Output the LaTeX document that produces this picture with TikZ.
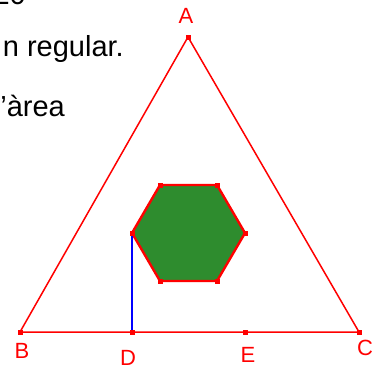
\documentclass[tikz,border=0pt]{standalone}
\usepackage{fontspec}
\setmainfont{Liberation Sans}
\definecolor{hexgreen}{RGB}{46,140,46}
\begin{document}
\begin{tikzpicture}[x=1pt,y=-1pt,
  txt/.style={inner sep=0pt,font=\fontsize{29}{34}\selectfont},
  lbl/.style={inner sep=0pt,text=red,font=\fontsize{22}{24}\selectfont},
  pt/.style={fill=red,minimum size=5pt,inner sep=0pt,shape=rectangle},
  side/.style={draw=red,line width=1.5pt},
  hexedge/.style={draw=red,line width=2.4pt,fill=hexgreen,line join=round}]
\useasboundingbox (0,0) rectangle (385,365);
% text (clipped at the page edges)
\node[txt,anchor=base east] (t0) at (26,4) {20};
\node[txt,anchor=base east] (t1) at (124,56) {n regular.};
\node[txt,anchor=base east] (t2) at (65,116) {’àrea};
% points
\coordinate (A) at (188,37);
\coordinate (B) at (20,332);
\coordinate (C) at (359,332);
\coordinate (D) at (132,332);
\coordinate (E) at (245,332);
\coordinate (H1) at (160,185);
\coordinate (H2) at (217,185);
\coordinate (H3) at (245,233);
\coordinate (H4) at (217,281);
\coordinate (H5) at (160,281);
\coordinate (H6) at (132,233);
% hexagon
\path[hexedge] (H1) -- (H2) -- (H3) -- (H4) -- (H5) -- (H6) -- cycle;
% triangle
\draw[side] (A) -- (B) -- (C) -- cycle;
% blue segment
\draw[blue,line width=1.5pt] (D) -- (H6);
% markers
\foreach \p in {A,B,C,D,E,H1,H2,H3,H4,H5,H6}
  \node[pt] (m\p) at (\p) {};
% labels
\node[lbl] (lA) at (186,16) {A};
\node[lbl] (lB) at (22,351) {B};
\node[lbl] (lC) at (365,348) {C};
\node[lbl] (lD) at (128,358) {D};
\node[lbl] (lE) at (248,355) {E};
\end{tikzpicture}
\end{document}
